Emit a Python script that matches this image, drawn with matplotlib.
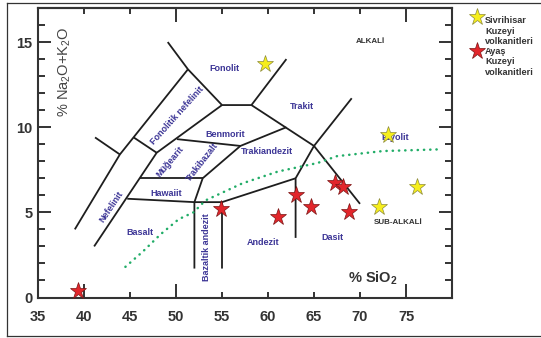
import matplotlib
matplotlib.use('Agg')
import matplotlib.pyplot as plt
from matplotlib.lines import Line2D
from matplotlib.ticker import MultipleLocator, FuncFormatter

plt.rcParams['font.family'] = ['Liberation Sans', 'DejaVu Sans']
plt.rcParams['font.weight'] = 'bold'
plt.rcParams['mathtext.default'] = 'regular'

# TAS field boundaries, each as (SiO2, Na2O+K2O)
boundaries = [
    ([39.0, 43.9, 51.3], [4.0, 8.4, 13.4]),
    ([49.1, 51.3, 55.0, 58.2, 62.0], [15.0, 13.4, 11.3, 11.3, 14.0]),
    ([41.2, 43.9], [9.4, 8.4]),
    ([45.4, 47.9], [9.4, 8.5]),
    ([41.1, 47.9, 55.0], [3.0, 8.5, 11.3]),
    ([58.2, 65.0, 70.0], [11.3, 8.9, 5.5]),
    ([65.0, 69.1], [8.9, 11.7]),
    ([65.0, 63.0, 63.0], [8.9, 7.0, 3.5]),
    ([63.0, 55.0, 55.0], [7.0, 5.6, 1.7]),
    ([44.7, 52.0, 55.0], [5.8, 5.6, 5.6]),
    ([52.0, 52.0, 52.9, 57.0, 62.0], [1.7, 5.6, 7.0, 8.9, 10.0]),
    ([50.1, 57.0], [9.3, 8.9]),
    ([46.1, 52.9], [7.0, 7.0]),
]

# alkali / sub-alkali divide
divide_sio2 = [44.5, 46.4, 48.3, 50.3, 51.9, 53.2, 57.2, 61.1, 65.4, 67.5, 72.5, 78.7]
divide_alk = [1.8, 2.7, 3.7, 4.6, 5.0, 5.7, 6.7, 7.4, 7.9, 8.3, 8.6, 8.7]

sivrihisar_sio2 = [59.7, 73.0, 72.1, 76.2]
sivrihisar_alk = [13.7, 9.55, 5.3, 6.5]
ayas_sio2 = [39.4, 54.9, 61.1, 63.0, 64.7, 67.3, 68.2, 68.8]
ayas_alk = [0.4, 5.2, 4.7, 6.0, 5.3, 6.7, 6.5, 5.0]

# rock names: text, SiO2, alkali, rotation
field_names = [
    ('Fonolit', 55.3, 13.45, 0),
    ('Fonolitik nefelinit', 50.1, 10.7, 48),
    ('Benmorit', 55.3, 9.6, 0),
    ('Müğearit', 49.3, 8.0, 50),
    ('Trakibazalt', 52.8, 7.95, 52),
    ('Trakiandezit', 59.9, 8.55, 0),
    ('Trakit', 63.7, 11.2, 0),
    ('Hawaiit', 48.9, 6.1, 0),
    ('Nefelinit', 43.0, 5.3, 56),
    ('Basalt', 46.1, 3.8, 0),
    ('Bazaltik andezit', 53.3, 2.95, 90),
    ('Andezit', 59.45, 3.25, 0),
    ('Dasit', 67.0, 3.5, 0),
    ('Riyolit', 73.8, 9.4, 0),
]

ink = '#333333'
purple = '#3c3596'
red = '#e2262b'
yellow = '#f6ee1c'

fig = plt.figure(figsize=(5.41, 3.38), dpi=100)
ax = fig.add_axes([38 / 541, 1 - 297.5 / 338, 414 / 541, 289.5 / 338])

for xs, ys in boundaries:
    ax.plot(xs, ys, color='#1e1e1e', lw=1.3, solid_capstyle='butt', zorder=2)

ax.plot(divide_sio2, divide_alk, color='#22ad68', lw=1.8,
        linestyle=(0, (0.1, 2.4)), dash_capstyle='round', zorder=2)

for name, x, y, rot in field_names:
    ax.text(x, y, name, rotation=rot, ha='center', va='center',
            fontsize=6.5, color=purple, zorder=3)

ax.text(71.1, 15.05, 'ALKALİ', ha='center', va='center', fontsize=5.8, color=ink)
ax.text(74.1, 4.38, 'SUB-ALKALİ', ha='center', va='center', fontsize=5.8, color=ink)
ax.text(71.4, 1.1, '% SiO$_2$', ha='center', va='center', fontsize=10.5, color=ink)
ax.text(37.9, 13.26, '% Na$_2$O+K$_2$O', rotation=90, ha='center', va='center',
        fontsize=10.5, fontweight='normal', color='#444444')

ax.plot(sivrihisar_sio2, sivrihisar_alk, ls='none', marker='*', ms=12.5,
        mfc=yellow, mec='#8c8a3a', mew=0.5, zorder=4)
ax.plot(ayas_sio2, ayas_alk, ls='none', marker='*', ms=12.5,
        mfc=red, mec='#7a1414', mew=0.5, zorder=4)

ax.set_xlim(35, 80)
ax.set_ylim(0, 17)

ax.set_xticks([40, 50, 75])
ax.set_xticks([35, 45, 55, 60, 65, 70], minor=True)
ax.xaxis.set_minor_formatter(FuncFormatter(lambda v, p: f'{v:.0f}'))
ax.set_yticks([0, 5, 10, 15])
ax.yaxis.set_minor_locator(MultipleLocator(1))

ax.tick_params(which='both', direction='in', color=ink, width=1.4,
               labelcolor=ink, labelsize=10.5)
ax.tick_params(axis='y', which='major', length=9.5, pad=4, right=True)
ax.tick_params(axis='y', which='minor', length=5, right=True)
ax.tick_params(axis='x', which='major', length=10, pad=9)
ax.tick_params(axis='x', which='minor', length=4.5, pad=9)

top = ax.secondary_xaxis('top')
top.set_xticks([50, 75])
top.set_xticks([40, 45, 55, 60, 65, 70], minor=True)
top.tick_params(which='both', direction='in', color=ink, width=1.4, labeltop=False)
top.tick_params(which='major', length=10)
top.tick_params(which='minor', length=4.5)
top.spines['top'].set_color(ink)
top.spines['top'].set_linewidth(1.5)

for sp in ax.spines.values():
    sp.set_color(ink)
    sp.set_linewidth(1.5)

# outer frame
W, H = 541, 338
fig.add_artist(Line2D([7 / W, 7 / W], [1 - 3 / H, 1 - 336 / H], color=ink, lw=0.9))
fig.add_artist(Line2D([7 / W, 1], [1 - 3 / H, 1 - 3 / H], color=ink, lw=0.9))
fig.add_artist(Line2D([7 / W, 1], [1 - 336 / H, 1 - 336 / H], color=ink, lw=0.9))

# legend
fig.add_artist(Line2D([477 / W], [1 - 17 / H], marker='*', ms=12.5, mfc=yellow,
                      mec='#8c8a3a', mew=0.5, transform=fig.transFigure))
fig.add_artist(Line2D([477 / W], [1 - 51 / H], marker='*', ms=12.5, mfc=red,
                      mec='#7a1414', mew=0.5, transform=fig.transFigure))
fig.text(485 / W, 1 - 31 / H, 'Sivrihisar\nKuzeyi\nvolkanitleri', ha='left',
         va='center', fontsize=6.6, color=ink, linespacing=1.25)
fig.text(485 / W, 1 - 62 / H, 'Ayaş\nKuzeyi\nvolkanitleri', ha='left',
         va='center', fontsize=6.6, color=ink, linespacing=1.25)

fig.savefig('out.png', dpi=100)
